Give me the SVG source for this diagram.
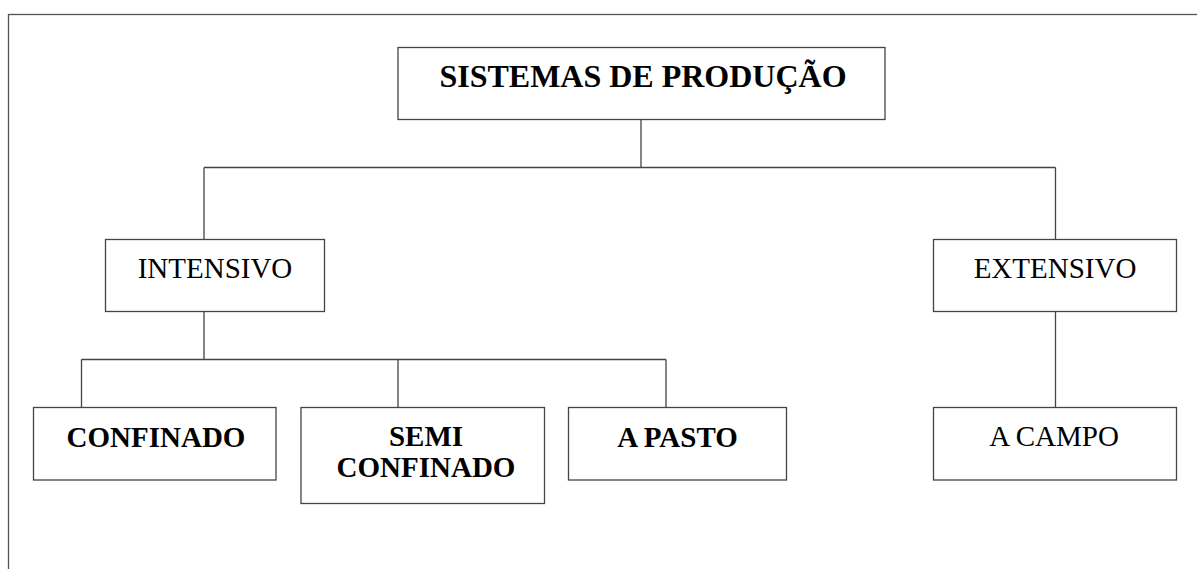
<svg xmlns="http://www.w3.org/2000/svg" width="1197" height="569" viewBox="0 0 1197 569">
<style>
.box{fill:#fff;stroke:#444;stroke-width:1.3}
.ln{fill:none;stroke:#444;stroke-width:1.3}
.t{font-family:"Liberation Serif","Times New Roman",serif;font-size:29px;fill:#000;text-anchor:middle}
.b{font-weight:bold}
.title{font-size:32px}
</style>
<rect x="0" y="0" width="1197" height="569" fill="#fff"/>
<rect id="frame" x="8.5" y="14.5" width="1200" height="600" fill="none" stroke="#555" stroke-width="1.3"/>
<g id="connectors">
<path class="ln" d="M641 119.5V167.5M204 167.5H1055.5M204 167.5V239.5M1055.5 167.5V239.5"/>
<path class="ln" d="M204 311.5V359.5M81.5 359.5H666M81.5 359.5V407.5M398 359.5V407.5M666 359.5V407.5"/>
<path class="ln" d="M1055.5 311.5V407.5"/>
</g>
<g id="n-sistemas">
<rect class="box" x="398" y="47.5" width="487" height="72"/>
<text class="t b title" x="643" y="87">SISTEMAS DE PRODUÇÃO</text>
</g>
<g id="n-intensivo">
<rect class="box" x="105.5" y="239.5" width="219" height="72"/>
<text class="t" x="215" y="278">INTENSIVO</text>
</g>
<g id="n-extensivo">
<rect class="box" x="933.5" y="239.5" width="243" height="72"/>
<text class="t" x="1055" y="278">EXTENSIVO</text>
</g>
<g id="n-confinado">
<rect class="box" x="33.5" y="407.5" width="242.5" height="72.5"/>
<text class="t b" x="156" y="447">CONFINADO</text>
</g>
<g id="n-semi">
<rect class="box" x="301" y="407.5" width="243.5" height="96"/>
<text class="t b" x="426" y="446">SEMI</text>
<text class="t b" x="426" y="477">CONFINADO</text>
</g>
<g id="n-pasto">
<rect class="box" x="568.5" y="407.5" width="218" height="72.5"/>
<text class="t b" x="677.5" y="447">A PASTO</text>
</g>
<g id="n-campo">
<rect class="box" x="933.5" y="407.5" width="243" height="72.5"/>
<text class="t" x="1054" y="446">A CAMPO</text>
</g>
</svg>
